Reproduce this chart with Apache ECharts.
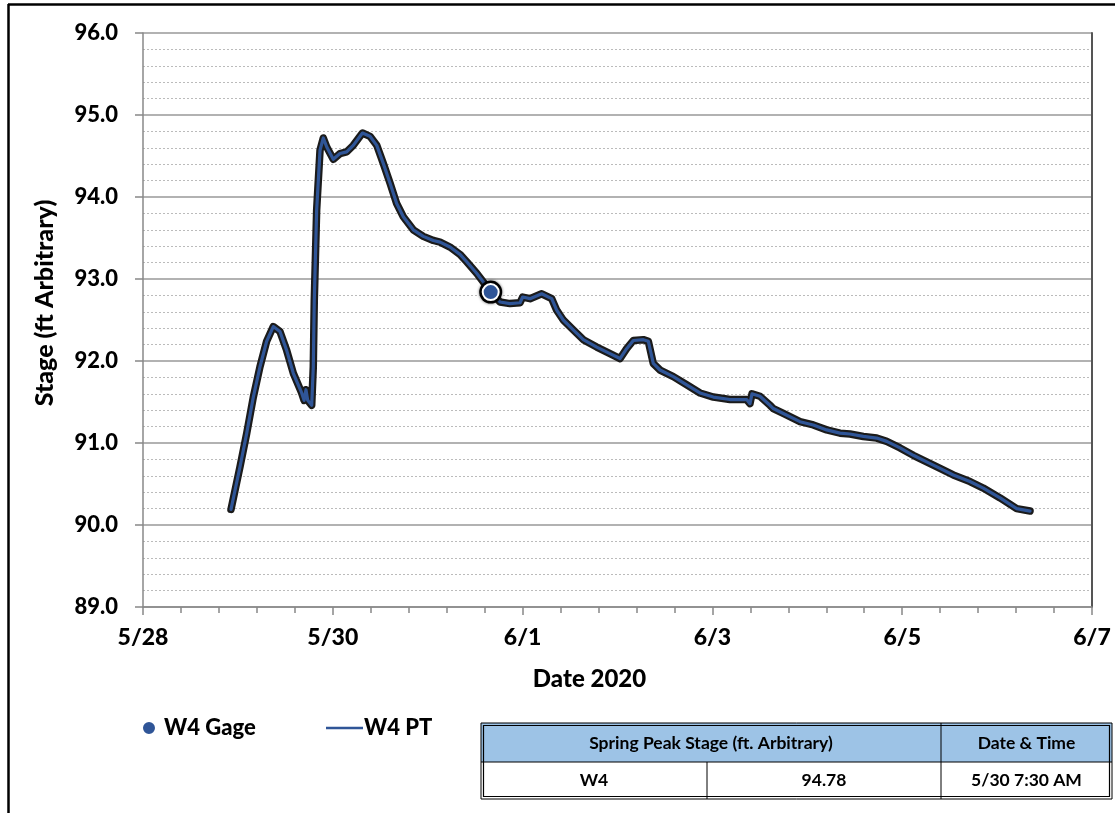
<!DOCTYPE html>
<html>
<head>
<meta charset="utf-8">
<script src="https://cdn.jsdelivr.net/npm/echarts@6/dist/echarts.min.js"></script>
<style>
html,body{margin:0;padding:0;background:#fff;}
#chart{width:1115px;height:813px;}
</style>
</head>
<body>
<div id="chart"></div>
<script>
// ---- data ----
const ptTimes = [
 '2020-05-28T22:15','2020-05-29T00:32','2020-05-29T02:14','2020-05-29T03:54','2020-05-29T05:35',
 '2020-05-29T07:16','2020-05-29T08:57','2020-05-29T10:38','2020-05-29T12:20','2020-05-29T14:01',
 '2020-05-29T16:08','2020-05-29T16:44','2020-05-29T17:13','2020-05-29T17:39','2020-05-29T18:40',
 '2020-05-29T19:04','2020-05-29T19:19','2020-05-29T19:55','2020-05-29T20:46','2020-05-29T21:36',
 '2020-05-29T22:28','2020-05-30T00:07','2020-05-30T01:49','2020-05-30T03:30','2020-05-30T05:11',
 '2020-05-30T07:30','2020-05-30T09:24','2020-05-30T11:07','2020-05-30T12:46','2020-05-30T14:28',
 '2020-05-30T16:09','2020-05-30T17:50','2020-05-30T20:21','2020-05-30T22:53','2020-05-31T01:25',
 '2020-05-31T03:07','2020-05-31T05:38','2020-05-31T08:10','2020-05-31T09:52','2020-05-31T12:23',
 '2020-05-31T14:55','2020-05-31T15:56','2020-05-31T18:17','2020-05-31T20:49','2020-05-31T23:21',
 '2020-06-01T00:01','2020-06-01T01:52','2020-06-01T04:50','2020-06-01T07:22','2020-06-01T08:37',
 '2020-06-01T10:17','2020-06-01T12:49','2020-06-01T15:21','2020-06-01T18:45','2020-06-01T22:06',
 '2020-06-02T00:38','2020-06-02T02:19','2020-06-02T04:00','2020-06-02T06:32','2020-06-02T07:48',
 '2020-06-02T09:03','2020-06-02T10:45','2020-06-02T14:07','2020-06-02T17:30','2020-06-02T20:52',
 '2020-06-03T00:14','2020-06-03T04:26','2020-06-03T08:40','2020-06-03T09:30','2020-06-03T10:01',
 '2020-06-03T12:01','2020-06-03T14:34','2020-06-03T15:24','2020-06-03T17:56','2020-06-03T22:09',
 '2020-06-04T01:31','2020-06-04T04:54','2020-06-04T08:17','2020-06-04T10:48','2020-06-04T14:10',
 '2020-06-04T17:33','2020-06-04T20:05','2020-06-04T23:27','2020-06-05T02:48','2020-06-05T06:11',
 '2020-06-05T09:34','2020-06-05T12:55','2020-06-05T17:08','2020-06-05T20:30','2020-06-06T00:45',
 '2020-06-06T04:57','2020-06-06T08:20'
];
const ptStage = [
 90.19,90.71,91.12,91.56,91.93,
 92.24,92.42,92.36,92.13,91.85,
 91.61,91.52,91.65,91.52,91.46,
 91.93,92.74,93.84,94.57,94.72,
 94.61,94.46,94.53,94.55,94.63,
 94.78,94.74,94.63,94.41,94.17,
 93.92,93.76,93.60,93.52,93.47,
 93.45,93.39,93.30,93.21,93.07,
 92.91,92.85,92.72,92.70,92.71,
 92.78,92.76,92.82,92.76,92.62,
 92.50,92.38,92.26,92.17,92.09,
 92.03,92.15,92.25,92.26,92.24,
 91.97,91.89,91.81,91.71,91.61,
 91.56,91.53,91.53,91.48,91.60,
 91.57,91.46,91.42,91.36,91.26,
 91.22,91.16,91.12,91.11,91.08,
 91.06,91.02,90.94,90.85,90.77,
 90.69,90.61,90.53,90.45,90.33,
 90.20,90.17
];
const gageTimes = ['2020-05-31T15:56'];
const gageStage = [92.84];

const axisStart = '2020-05-28T00:00';
const axisEnd = '2020-06-07T00:00';
const yTicks = [89, 90, 91, 92, 93, 94, 95, 96];

const tableHeader = ['Spring Peak Stage (ft. Arbitrary)', 'Date & Time'];
const tableRow = ['W4', '94.78', '5/30 7:30 AM'];

// ---- build ----
const base = new Date(axisStart).getTime();
const toH = t => (new Date(t).getTime() - base) / 3600000;
const ptData = ptTimes.map((t, i) => [toH(t), ptStage[i]]);
const gageData = gageTimes.map((t, i) => [toH(t), gageStage[i]]);
const xMax = toH(axisEnd);

const FONT = 'Lato';
const W = 900;
const chart = echarts.init(document.getElementById('chart'));

// table geometry
const tL = 481, tT = 723, tR = 1112, tB = 799, tMid = 762, c1 = 707, c2 = 941;
const TF = 'bold 17.5px ' + FONT;
const tableGraphics = [
  {type:'rect', shape:{x:tL, y:tT, width:tR-tL, height:tMid-tT}, style:{fill:'#9DC3E6', stroke:null}},
  {type:'rect', shape:{x:tL, y:tT, width:tR-tL, height:tB-tT}, style:{fill:'none', stroke:'#000', lineWidth:1}},
  {type:'rect', shape:{x:tL+2.5, y:tT+2.5, width:tR-tL-5, height:tB-tT-5}, style:{fill:'none', stroke:'#000', lineWidth:1.2}},
  {type:'line', shape:{x1:tL, y1:tMid, x2:tR, y2:tMid}, style:{stroke:'#000', lineWidth:1.2}},
  {type:'line', shape:{x1:c2, y1:tT, x2:c2, y2:tB}, style:{stroke:'#000', lineWidth:1}},
  {type:'line', shape:{x1:c1, y1:tMid, x2:c1, y2:tB}, style:{stroke:'#000', lineWidth:1}},
  {type:'text', x:(tL+c2)/2, y:(tT+tMid)/2+1, style:{text:tableHeader[0], fill:'#000', font:TF, align:'center', verticalAlign:'middle'}},
  {type:'text', x:(c2+tR)/2, y:(tT+tMid)/2+1, style:{text:tableHeader[1], fill:'#000', font:TF, align:'center', verticalAlign:'middle'}},
  {type:'text', x:(tL+c1)/2, y:(tMid+tB)/2, style:{text:tableRow[0], fill:'#000', font:TF, align:'center', verticalAlign:'middle'}},
  {type:'text', x:(c1+c2)/2, y:(tMid+tB)/2, style:{text:tableRow[1], fill:'#000', font:TF, align:'center', verticalAlign:'middle'}},
  {type:'text', x:(c2+tR)/2, y:(tMid+tB)/2, style:{text:tableRow[2], fill:'#000', font:TF, align:'center', verticalAlign:'middle'}},
  // outer frame
  {type:'line', shape:{x1:8, y1:4.5, x2:1115, y2:4.5}, style:{stroke:'#000', lineWidth:2.5}},
  {type:'line', shape:{x1:8.5, y1:4, x2:8.5, y2:813}, style:{stroke:'#000', lineWidth:2.5}}
];

const BLUE = '#2F5597';
const option = {
  animation: false,
  backgroundColor: '#fff',
  grid: {left:143, top:33, right:23, bottom:206, containLabel:false},
  legend: [
    {data:[{name:'W4 Gage', icon:'circle'}], left:136, top:712, itemWidth:14, itemHeight:14, itemGap:0,
     textStyle:{fontFamily:FONT, fontWeight:W, fontSize:22, color:'#000', padding:[0,0,0,3]}},
    {data:[{name:'W4 PT', icon:'rect'}], left:321, top:712, itemWidth:37, itemHeight:2.5,
     textStyle:{fontFamily:FONT, fontWeight:W, fontSize:22, color:'#000', padding:[0,0,0,-4]}}
  ],
  xAxis: {
    type:'value', min:0, max:xMax, interval:48,
    name:'Date 2020', nameLocation:'middle', nameGap:60,
    nameTextStyle:{fontFamily:FONT, fontWeight:W, fontSize:24, color:'#000', padding:[0,56,0,0]},
    axisLine:{show:true, lineStyle:{color:'#888', width:1.5}},
    axisTick:{show:true, length:8, lineStyle:{color:'#888', width:1.5}},
    minorTick:{show:true, splitNumber:5, length:6, lineStyle:{color:'#888', width:1.5}},
    splitLine:{show:false},
    axisLabel:{margin:19, fontFamily:FONT, fontWeight:W, fontSize:23, color:'#000',
      formatter: v => { const d = new Date(base + v*3600000); return (d.getMonth()+1) + '/' + d.getDate(); }}
  },
  yAxis: [{
    type:'value', min:yTicks[0], max:yTicks[yTicks.length-1], interval:1,
    name:'Stage (ft Arbitrary)', nameLocation:'middle', nameGap:86, nameRotate:90,
    nameTextStyle:{fontFamily:FONT, fontWeight:W, fontSize:25, color:'#000', padding:[0,0,0,34]},
    axisLine:{show:true, lineStyle:{color:'#888', width:1.5}},
    axisTick:{show:true, length:8, lineStyle:{color:'#888', width:1.5}},
    splitLine:{show:true, lineStyle:{color:'#999', width:1.5}},
    minorTick:{show:false, splitNumber:5},
    minorSplitLine:{show:true, lineStyle:{color:'#bbb', width:1, type:[2,2]}},
    axisLabel:{margin:25, fontFamily:FONT, fontWeight:W, fontSize:22, color:'#000',
      formatter: v => v.toFixed(1)}
  }, {
    type:'value', min:yTicks[0], max:yTicks[yTicks.length-1], position:'right',
    axisLine:{show:true, lineStyle:{color:'#555', width:2}},
    axisTick:{show:false}, axisLabel:{show:false}, splitLine:{show:false}
  }],
  series: [
    {name:'outline', type:'line', data:ptData, showSymbol:false, symbol:'none', z:2,
     lineStyle:{color:'#1b1b1b', width:7.5, join:'round', cap:'round'}, silent:true},
    {name:'W4 PT', type:'line', data:ptData, showSymbol:false, symbol:'none', z:3,
     color:BLUE, itemStyle:{color:BLUE}, lineStyle:{color:BLUE, width:3.2, join:'round', cap:'round'}},
    {name:'gageHalo', type:'scatter', data:gageData, symbol:'circle', symbolSize:23, z:4,
     itemStyle:{color:'#000', opacity:1, shadowBlur:3, shadowColor:'rgba(0,0,0,0.6)'}, silent:true},
    {name:'W4 Gage', type:'scatter', data:gageData, symbol:'circle', symbolSize:16, z:5,
     color:BLUE, itemStyle:{color:BLUE, borderColor:'#fff', borderWidth:2, opacity:1}}
  ],
  graphic: tableGraphics
};
chart.setOption(option);
</script>
</body>
</html>
